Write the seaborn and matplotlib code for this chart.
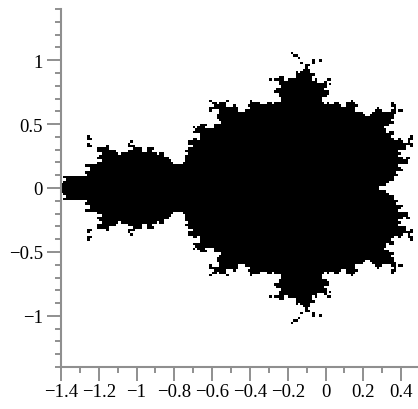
import numpy as np
import pandas as pd
import matplotlib
matplotlib.use("Agg")
import matplotlib.pyplot as plt
from matplotlib.ticker import MultipleLocator, FuncFormatter
import seaborn as sns

# Plot window and sampling of the complex plane
x_range = [-1.4, 0.5]
y_range = [-1.4, 1.4]
grid_points = [150, 150]   # columns, rows
max_iter = 16
escape_radius = 2.0

# Mandelbrot membership on the grid (cell centres)
nx, ny = grid_points
x_edges = np.linspace(x_range[0], x_range[1], nx + 1)
y_edges = np.linspace(y_range[0], y_range[1], ny + 1)
xs = (x_edges[:-1] + x_edges[1:]) / 2
ys = (y_edges[:-1] + y_edges[1:]) / 2
c = xs[None, :] + 1j * ys[:, None]
z = np.zeros_like(c)
inside = np.ones(c.shape, dtype=bool)
for _ in range(max_iter):
    z[inside] = z[inside] ** 2 + c[inside]
    inside &= np.abs(z) <= escape_radius

df = pd.DataFrame(inside[::-1].astype(int), index=ys[::-1], columns=xs)

sns.set_style("ticks")
plt.rcParams["font.family"] = ["Liberation Serif", "DejaVu Serif"]

fig = plt.figure(figsize=(4.18, 4.10), dpi=100)
rect = [61 / 418, 42 / 410, 359 / 418, 358 / 410]

# the set itself
ax_img = fig.add_axes(rect)
sns.heatmap(df, ax=ax_img, cmap=["white", "black"], cbar=False,
            xticklabels=False, yticklabels=False, vmin=0, vmax=1)
ax_img.axis("off")

# axes on top
ax = fig.add_axes(rect, facecolor="none")
ax.set_xlim(x_range)
ax.set_ylim(y_range)
for s in ["top", "right"]:
    ax.spines[s].set_visible(False)
axis_grey = "#8f8f8f"
for s in ["left", "bottom"]:
    ax.spines[s].set_color(axis_grey)
    ax.spines[s].set_linewidth(1.5)

ax.xaxis.set_major_locator(MultipleLocator(0.2))
ax.xaxis.set_minor_locator(MultipleLocator(0.1))
ax.yaxis.set_major_locator(MultipleLocator(0.5))
ax.yaxis.set_minor_locator(MultipleLocator(0.1))


def fmt(v, pos):
    v = round(v, 2)
    if abs(v) < 1e-9:
        return "0"
    s = ("%g" % abs(v))
    return ("\u2212" if v < 0 else "") + s


ax.xaxis.set_major_formatter(FuncFormatter(fmt))
ax.yaxis.set_major_formatter(FuncFormatter(fmt))
ax.tick_params(which="both", bottom=True, left=True, top=False, right=False)
ax.tick_params(which="major", direction="out", length=10, width=1.4,
               color=axis_grey, labelsize=13.5, labelcolor="black")
ax.tick_params(which="minor", direction="out", length=4.5, width=1.4,
               color=axis_grey)
ax.tick_params(axis="x", which="major", pad=1.5)
ax.tick_params(axis="y", which="major", pad=3)

fig.savefig("out.png", dpi=100)
